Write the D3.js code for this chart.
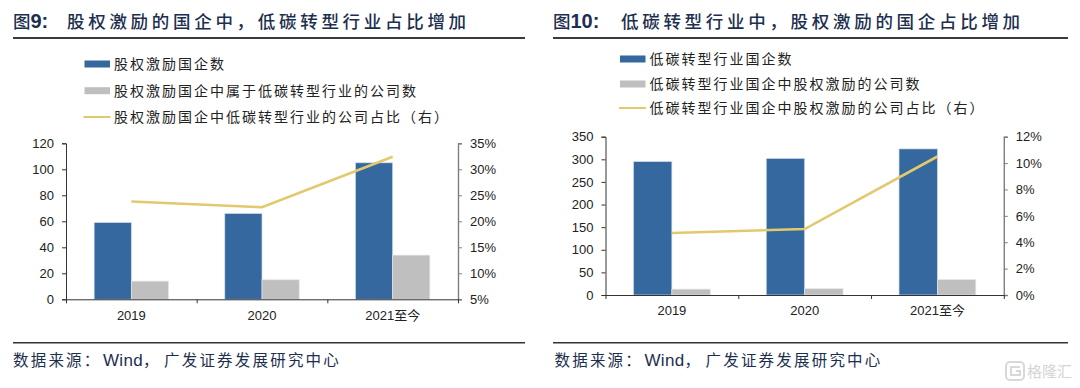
<!DOCTYPE html>
<html>
<head>
<meta charset="utf-8">
<script src="https://cdnjs.cloudflare.com/ajax/libs/d3/7.8.5/d3.min.js"></script>
<style>
  html, body { margin: 0; padding: 0; background: #fff; }
  svg { display: block; }
  text { font-family: "Liberation Sans", "Noto Sans CJK SC", sans-serif; }
  .cjk { font-family: "Noto Sans CJK SC", sans-serif; }
</style>
</head>
<body>
<div id="chart"></div>
<script>
const years = ["2019", "2020", "2021至今"];

// figure 9
const leftBlue = [59, 66, 105];
const leftGrey = [14, 15, 34];
const leftLine = [0.238, 0.227, 0.324];
const leftTicks = [0, 20, 40, 60, 80, 100, 120];
const leftRightTicks = [0.05, 0.10, 0.15, 0.20, 0.25, 0.30, 0.35];
const leftLegend = ["股权激励国企数", "股权激励国企中属于低碳转型行业的公司数", "股权激励国企中低碳转型行业的公司占比（右）"];

// figure 10
const rightBlue = [295, 302, 323];
const rightGrey = [13, 14, 34];
const rightLine = [0.047, 0.050, 0.105];
const rightTicks = [0, 50, 100, 150, 200, 250, 300, 350];
const rightRightTicks = [0, 0.02, 0.04, 0.06, 0.08, 0.10, 0.12];
const rightLegend = ["低碳转型行业国企数", "低碳转型行业国企中股权激励的公司数", "低碳转型行业国企中股权激励的公司占比（右）"];

const BLUE = "#34689e", GREY = "#bfbfbf", GOLD = "#e2c96e", INK = "#222", NAVY = "#1d2f4f";

const svg = d3.select("#chart")
  .append("svg")
  .attr("width", 1080)
  .attr("height", 388);

function drawPanel(p) {
  const g = svg.append("g");

  // title
  const title = g.append("text")
    .attr("x", p.ruleX[0])
    .attr("y", 28)
    .attr("fill", NAVY);
  title.append("tspan")
    .attr("class", "cjk")
    .attr("font-size", 17.5)
    .attr("font-weight", 500)
    .text("图");
  title.append("tspan")
    .attr("font-size", 20)
    .attr("font-weight", 700)
    .text(p.figNo + ":");
  title.append("tspan")
    .attr("class", "cjk")
    .attr("x", p.titleX)
    .attr("font-size", 17.5)
    .attr("font-weight", 500)
    .attr("letter-spacing", 3.7)
    .text(p.title);

  g.append("line")
    .attr("x1", p.ruleX[0]).attr("x2", p.ruleX[1])
    .attr("y1", 38).attr("y2", 38)
    .attr("stroke", "#3a3a3a")
    .attr("stroke-width", 2);

  // legend
  p.legend.forEach((label, i) => {
    const y = p.legendY[i];
    if (i < 2) {
      g.append("rect")
        .attr("x", p.swatchX).attr("y", y - 3.5)
        .attr("width", 25.5).attr("height", 7)
        .attr("fill", i === 0 ? BLUE : GREY);
    } else {
      g.append("line")
        .attr("x1", p.swatchX - 1).attr("x2", p.swatchX + 26)
        .attr("y1", y).attr("y2", y)
        .attr("stroke", GOLD)
        .attr("stroke-width", 2);
    }
    g.append("text")
      .attr("class", "cjk")
      .attr("x", p.swatchX + 29.5)
      .attr("y", y + 5)
      .attr("font-size", 14)
      .attr("letter-spacing", 2)
      .attr("fill", INK)
      .text(label);
  });

  // scales
  const x = d3.scaleBand().domain(years).range([p.x0, p.x1]);
  const bars = d3.scaleBand().domain([0, 1]).range([0, p.barW * 2]);
  const y = d3.scaleLinear().domain(p.yDomain).range([p.yBottom, p.yTop]);
  const y2 = d3.scaleLinear().domain(p.y2Domain).range([p.yBottom, p.yTop]);
  const barLeft = d => x(d) + (x.bandwidth() - p.barW * 2) / 2;

  // bars
  [p.blue, p.grey].forEach((series, s) => {
    g.append("g").selectAll("rect")
      .data(series)
      .join("rect")
      .attr("x", (d, i) => barLeft(years[i]) + bars(s))
      .attr("y", d => y(d))
      .attr("width", bars.bandwidth())
      .attr("height", d => y(0) - y(d))
      .attr("fill", s === 0 ? BLUE : GREY)
      .attr("stroke", s === 0 ? "#cfdcea" : "#e6e6e6")
      .attr("stroke-width", 0.7);
  });

  // axes
  const leftAxis = g.append("g")
    .attr("transform", `translate(${p.x0},0)`)
    .call(d3.axisLeft(y).tickValues(p.ticks).tickSize(4).tickSizeOuter(4).tickPadding(8));
  const rightAxis = g.append("g")
    .attr("transform", `translate(${p.x1},0)`)
    .call(d3.axisRight(y2).tickValues(p.ticks2).tickSize(4).tickSizeOuter(4).tickPadding(8).tickFormat(d3.format(".0%")));
  rightAxis.selectAll("path,line").attr("stroke", "#7f7f7f");
  rightAxis.select("path").attr("stroke-width", 1.4);

  const edges = d3.scaleLinear().domain([0, years.length]).range([p.x0, p.x1]);
  const edgeAxis = g.append("g")
    .attr("transform", `translate(0,${p.yBottom})`)
    .call(d3.axisBottom(edges).tickValues(d3.range(years.length + 1)).tickSize(4).tickSizeOuter(0).tickFormat(""));
  const catAxis = g.append("g")
    .attr("transform", `translate(0,${p.yBottom})`)
    .call(d3.axisBottom(x).tickSize(0).tickPadding(11));
  catAxis.select("path").remove();

  [leftAxis, rightAxis, catAxis].forEach(a => {
    a.attr("font-family", null).attr("font-size", null);
    a.selectAll("text").attr("font-size", 13).attr("fill", INK);
  });
  edgeAxis.selectAll("path,line").attr("stroke", "#333");
  leftAxis.selectAll("path,line").attr("stroke", "#333");

  // line on the right axis
  const line = d3.line()
    .x((d, i) => x(years[i]) + x.bandwidth() / 2)
    .y(d => y2(d));
  g.append("path")
    .datum(p.line)
    .attr("fill", "none")
    .attr("stroke", GOLD)
    .attr("stroke-width", 2.6)
    .attr("d", line);

  // source
  g.append("line")
    .attr("x1", p.ruleX[0]).attr("x2", p.ruleX[1])
    .attr("y1", 342.7).attr("y2", 342.7)
    .attr("stroke", "#333")
    .attr("stroke-width", 1.4);
  const src = g.append("text")
    .attr("y", 366)
    .attr("fill", NAVY);
  src.append("tspan").attr("class", "cjk").attr("x", p.srcX).attr("font-size", 15.5).attr("letter-spacing", 2.2).text("数据来源：");
  src.append("tspan").attr("x", p.srcX + 90).attr("font-size", 17).attr("letter-spacing", 0.3).text("Wind");
  src.append("tspan").attr("class", "cjk").attr("x", p.srcX + 130).attr("font-size", 15.5).attr("letter-spacing", 2.2).text("，");
  src.append("tspan").attr("class", "cjk").attr("x", p.srcX + 151).attr("font-size", 15.5).attr("letter-spacing", 2.2).text("广发证券发展研究中心");
}

drawPanel({
  figNo: "9", title: "股权激励的国企中，低碳转型行业占比增加", titleX: 67,
  ruleX: [13, 525], srcX: 13,
  legend: leftLegend, legendY: [64, 90.7, 117], swatchX: 84.5,
  x0: 66, x1: 458, yTop: 143.3, yBottom: 299.3, barW: 37.2,
  yDomain: [0, 120], y2Domain: [0.05, 0.35],
  ticks: leftTicks, ticks2: leftRightTicks,
  blue: leftBlue, grey: leftGrey, line: leftLine
});

drawPanel({
  figNo: "10", title: "低碳转型行业中，股权激励的国企占比增加", titleX: 621,
  ruleX: [553, 1068], srcX: 554.5,
  legend: rightLegend, legendY: [59, 84, 108], swatchX: 620,
  x0: 605.5, x1: 1003.8, yTop: 136.7, yBottom: 295, barW: 38.4,
  yDomain: [0, 350], y2Domain: [0, 0.12],
  ticks: rightTicks, ticks2: rightRightTicks,
  blue: rightBlue, grey: rightGrey, line: rightLine
});

// watermark
const mark = svg.append("g");
mark.append("rect")
  .attr("x", 1006).attr("y", 362)
  .attr("width", 18).attr("height", 18)
  .attr("rx", 4)
  .attr("fill", "none")
  .attr("stroke", "#d8d8d8")
  .attr("stroke-width", 2);
mark.append("path")
  .attr("d", "M1020 367h-9v8h9v-4h-4")
  .attr("fill", "none")
  .attr("stroke", "#d8d8d8")
  .attr("stroke-width", 2);
mark.append("text")
  .attr("class", "cjk")
  .attr("x", 1027).attr("y", 377)
  .attr("font-size", 15)
  .attr("fill", "#d4d4d4")
  .text("格隆汇");
</script>
</body>
</html>
